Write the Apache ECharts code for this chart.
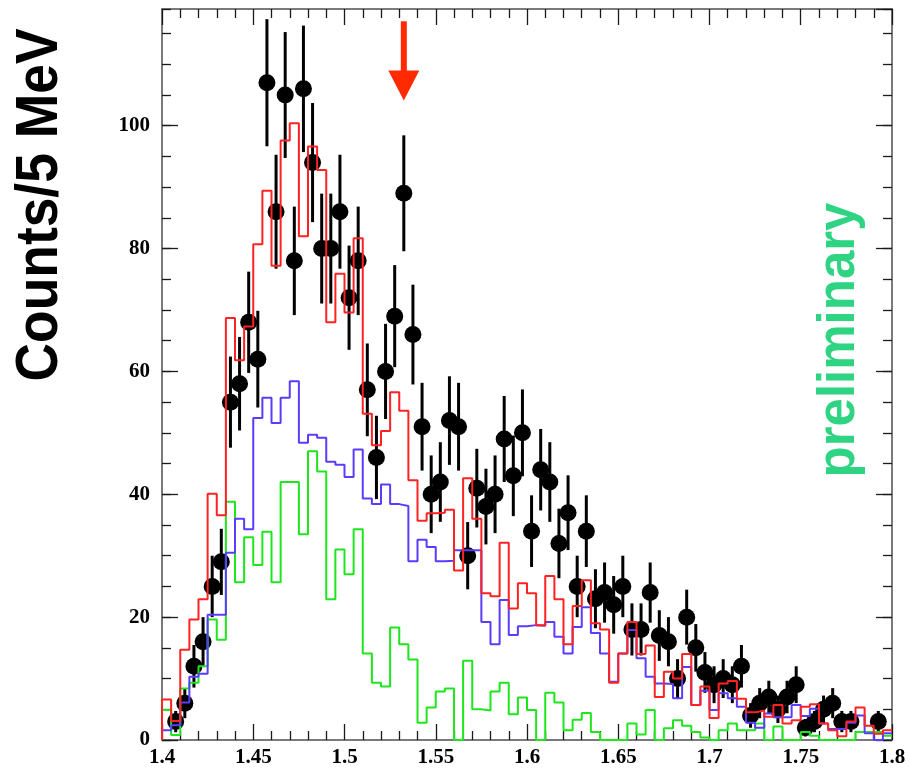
<!DOCTYPE html>
<html>
<head>
<meta charset="utf-8">
<script src="https://cdn.jsdelivr.net/npm/echarts@6/dist/echarts.min.js"></script>
<style>
  html, body { margin: 0; padding: 0; background: #fff; }
  #chart { width: 909px; height: 773px; }
</style>
</head>
<body>
<div id="chart"></div>
<script>
// Invariant-mass histogram, 5 MeV bins from 1.40 to 1.80 GeV
const BIN_LO = 1.4;
const BIN_W = 0.005;

// Measured counts per bin (null = empty bin, no marker)
const counts = [
  null, 3, 6, 12, 16, 25, 29, 55, 58, 68,
  62, 107, 86, 105, 78, 106, 94, 80, 80, 86,
  72, 78, 57, 46, 60, 69, 89, 66, 51, 40,
  42, 52, 51, 30, 41, 38, 40, 49, 43, 50,
  34, 44, 42, 32, 37, 25, 34, 23, 24, 22,
  25, 18, 18, 24, 17, 16, 10, 20, 15, 11,
  9, 10, 9, 12, 4, 6, 7, 5, 7, 9,
  2, 3, 5, 6, 3, 3, null, null, 3, null
];

// Simulated total (red)
const redHist = [
  6.6, 3.1, 14.7, 19.6, 22.9, 40.1, 36.6, 68.7, 61.8, 67.3,
  80.7, 89.4, 77.2, 97.6, 100.4, 82.0, 96.6, 92.8, 68.0, 75.9,
  69.6, 81.7, 53.1, 48.0, 50.3, 56.6, 53.6, 42.3, 35.7, 36.9,
  37.0, 37.5, 27.6, 42.6, 36.0, 23.9, 23.4, 32.1, 21.4, 25.5,
  23.9, 18.7, 26.7, 22.9, 15.6, 21.8, 26.0, 19.0, 18.0, 9.3,
  14.1, 19.2, 14.0, 15.4, 7.0, 11.1, 10.0, 14.0, 5.7, 8.7,
  3.6, 9.2, 9.6, 6.7, 4.5, 4.8, 3.8, 5.7, 2.7, 3.2,
  5.4, 5.8, 2.7, 1.6, 0.6, 3.0, 5.3, 2.3, 1.0, 1.6
];

// Component 1 (blue)
const blueHist = [
  1.6, 2.4, 6.1, 10.3, 10.8, 20.4, 20.4, 30.5, 36.0, 34.3,
  52.4, 55.7, 51.6, 55.7, 58.4, 48.4, 49.7, 49.2, 45.3, 44.8,
  42.8, 47.3, 39.3, 38.4, 41.6, 38.4, 38.1, 29.1, 32.6, 31.4,
  29.1, 29.2, 30.9, 30.9, 30.9, 19.2, 15.6, 22.8, 17.1, 18.5,
  18.7, 18.6, 19.2, 16.8, 14.1, 18.4, 21.6, 17.4, 14.1, 9.5,
  14.1, 17.9, 13.3, 10.3, 9.2, 9.1, 6.8, 11.9, 5.7, 8.0,
  4.9, 7.6, 6.8, 5.4, 2.8, 2.0, 4.3, 3.7, 3.7, 5.7,
  3.9, 5.1, 2.7, 1.8, 1.8, 2.8, 4.0, 1.1, 0.0, 1.1
];

// Component 2 (green)
const greenHist = [
  4.9, 0.8, 8.4, 9.3, 12.0, 19.6, 16.3, 38.8, 25.7, 33.0,
  28.5, 33.9, 25.7, 42.0, 42.0, 33.5, 47.0, 43.7, 22.9, 31.0,
  27.0, 34.3, 14.1, 9.3, 8.7, 18.3, 15.6, 13.1, 2.8, 5.3,
  7.9, 8.4, 0.0, 12.9, 5.0, 4.8, 7.9, 9.3, 4.2, 6.9,
  4.9, 0.0, 7.7, 6.1, 1.6, 3.3, 4.4, 1.3, 0.0, 0.0,
  0.0, 2.7, 0.9, 4.9, 0.0, 1.9, 3.2, 2.3, 1.3, 0.4,
  0.0, 1.6, 2.7, 1.6, 1.6, 2.7, 0.0, 2.2, 0.0, 0.0,
  1.3, 0.7, 0.0, 0.0, 0.0, 0.0, 1.3, 1.3, 1.3, 0.7
];

// Axis ranges
const X_MIN = 1.4, X_MAX = 1.8;
const Y_MIN = 0, Y_MAX = 119;

// Arrow marking the narrow structure: [mass, shaft top, head base, tip]
const arrowMark = [[1.5325, 117, 109, 104.1]];

// Step outline: one point per bin low edge, closing at the last bin's high edge
function stepPoints(vals) {
  const pts = [[BIN_LO, 0]];
  vals.forEach((v, i) => pts.push([+(BIN_LO + i * BIN_W).toFixed(4), v]));
  pts.push([+(BIN_LO + vals.length * BIN_W).toFixed(4), vals[vals.length - 1]]);
  return pts;
}

const pointData = [];
counts.forEach((n, i) => {
  if (n !== null) pointData.push([+(BIN_LO + (i + 0.5) * BIN_W).toFixed(4), n]);
});

const chart = echarts.init(document.getElementById('chart'), null, { renderer: 'canvas' });

const FRAME = '#7a7a7a';
const TICK = '#1a1a1a';
const labelFont = {
  fontFamily: 'Liberation Serif', fontWeight: 'bold', fontSize: 21, color: '#000'
};

function xAxisDef(pos, showLabels) {
  return {
    type: 'value', position: pos, min: X_MIN, max: X_MAX, interval: 0.05,
    axisLine: { show: true, onZero: false, lineStyle: { color: FRAME, width: 2 } },
    axisTick: { show: true, inside: true, length: 16, lineStyle: { color: TICK, width: 1.3 } },
    minorTick: { show: true, splitNumber: 5, length: 9, lineStyle: { color: TICK, width: 1.3 } },
    splitLine: { show: false },
    axisLabel: Object.assign({
      show: showLabels, margin: 7, showMinLabel: true, showMaxLabel: true,
      formatter: v => String(+v.toFixed(2))
    }, labelFont)
  };
}

function yAxisDef(pos, interval, tickLen, showLabels, showLine) {
  return {
    type: 'value', position: pos, min: Y_MIN, max: Y_MAX, interval: interval,
    axisLine: { show: showLine, onZero: false, lineStyle: { color: FRAME, width: 2 } },
    axisTick: { show: true, inside: true, length: tickLen, lineStyle: { color: TICK, width: 1.3 } },
    splitLine: { show: false },
    axisLabel: Object.assign({
      show: showLabels, margin: 12, showMaxLabel: false
    }, labelFont)
  };
}

function histSeries(vals, color) {
  return {
    type: 'line', step: 'end', data: stepPoints(vals),
    xAxisIndex: 0, yAxisIndex: 0,
    symbol: 'none', clip: true, animation: false,
    lineStyle: { color: color, width: 2 }
  };
}

chart.setOption({
  animation: false,
  backgroundColor: '#fff',
  grid: { left: 162, right: 17, top: 9, bottom: 33, containLabel: false },
  xAxis: [xAxisDef('bottom', true), xAxisDef('top', false)],
  yAxis: [
    yAxisDef('left', 20, 16, true, true),
    yAxisDef('left', 5, 9, false, false),
    yAxisDef('right', 20, 16, false, true),
    yAxisDef('right', 5, 9, false, false)
  ],
  series: [
    histSeries(greenHist, '#1ee61e'),
    histSeries(blueHist, '#5a3cff'),
    histSeries(redHist, '#ff2222'),
    {
      type: 'custom', coordinateSystem: 'cartesian2d', xAxisIndex: 0, yAxisIndex: 0,
      data: pointData, animation: false, clip: false,
      renderItem: function (params, api) {
        const x = api.value(0), n = api.value(1);
        const err = Math.sqrt(n);
        const c = api.coord([x, n]);
        const hi = api.coord([x, n + err]);
        const lo = api.coord([x, Math.max(0, n - err)]);
        return {
          type: 'group',
          children: [
            { type: 'line', shape: { x1: c[0], y1: lo[1], x2: c[0], y2: hi[1] },
              style: { stroke: '#000', lineWidth: 3 } },
            { type: 'circle', shape: { cx: c[0], cy: c[1], r: 8.5 },
              style: { fill: '#000' } }
          ]
        };
      }
    },
    {
      type: 'custom', coordinateSystem: 'cartesian2d', xAxisIndex: 0, yAxisIndex: 0,
      data: arrowMark, animation: false, clip: false,
      renderItem: function (params, api) {
        const x = api.value(0);
        const top = api.coord([x, api.value(1)]);
        const base = api.coord([x, api.value(2)]);
        const tip = api.coord([x, api.value(3)]);
        const cx = top[0];
        return {
          type: 'group',
          children: [
            { type: 'rect', shape: { x: cx - 3, y: top[1], width: 6, height: base[1] - top[1] + 1 },
              style: { fill: '#ff2a00' } },
            { type: 'polygon', shape: { points: [[cx - 15.5, base[1]], [cx + 15.5, base[1]], [cx, tip[1]]] },
              style: { fill: '#ff2a00' } }
          ]
        };
      }
    }
  ],
  graphic: [
    {
      type: 'text', x: 40, y: 205, rotation: Math.PI / 2, scaleX: 0.89,
      style: {
        text: 'Counts/5 MeV', font: 'bold 60px "Liberation Sans", Arial, sans-serif',
        fill: '#000', align: 'center', verticalAlign: 'middle'
      }
    },
    {
      type: 'text', x: 840, y: 340, rotation: Math.PI / 2,
      style: {
        text: 'preliminary', font: 'bold 51px "Liberation Sans", Arial, sans-serif',
        fill: '#2fd483', align: 'center', verticalAlign: 'middle'
      }
    }
  ]
});
</script>
</body>
</html>
